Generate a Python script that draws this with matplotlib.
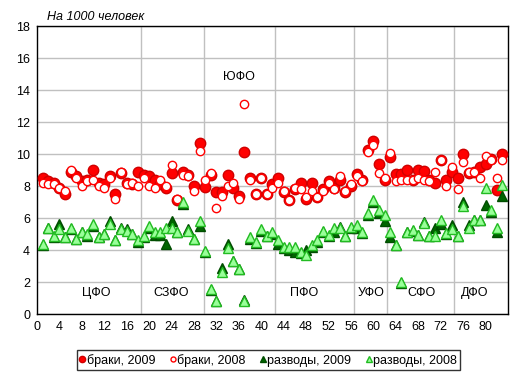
import matplotlib.pyplot as plt

plt.rcParams['font.family'] = ['Liberation Sans', 'DejaVu Sans']

# regions numbered 1..83
regions = list(range(1, 84))

marriages_2009 = [8.5, 8.3, 8.2, 7.9, 7.5, 8.9, 8.6, 8.3, 8.4, 9.0, 8.2, 8.1, 8.6, 7.5, 8.8, 8.2, 8.1, 8.9,
                  8.7, 8.6, 8.4, 8.1, 7.85, 8.8, 7.1, 8.9, 8.7, 8.0, 10.7,
                  7.95, 8.7, 7.65, 7.65, 8.7, 7.85, 7.4, 10.1, 8.5, 7.5, 8.5, 7.5, 8.1,
                  8.5, 7.6, 7.1, 7.8, 8.2, 7.2, 8.2, 7.3, 7.8, 8.3, 7.9, 8.4, 7.65, 8.0,
                  8.75, 8.4, 10.25, 10.8, 9.4, 8.4,
                  9.8, 8.75, 8.75, 9.0, 8.4, 9.0, 8.95, 8.4, 8.2, 9.6, 8.4, 8.9,
                  8.5, 10.0, 8.8, 8.9, 9.2, 9.4, 9.7, 7.75, 10.0]

marriages_2008 = [8.2, 8.1, 8.1, 7.9, 7.7, 9.0, 8.5, 8.0, 8.3, 8.4, 8.0, 7.9, 8.5, 7.2, 8.9, 8.1, 8.2, 8.0,
                  8.5, 8.0, 7.9, 8.4, 8.0, 9.3, 7.2, 8.7, 8.6, 7.7, 10.2,
                  8.4, 8.8, 6.6, 7.4, 8.0, 8.2, 7.2, 13.1, 8.4, 7.5, 8.5, 7.5, 7.9,
                  8.2, 7.7, 7.1, 7.9, 7.8, 7.3, 7.7, 7.3, 7.7, 8.2, 7.8, 8.6, 7.7, 8.1,
                  8.6, 8.3, 10.1, 10.55, 8.8, 8.5,
                  10.05, 8.3, 8.4, 8.4, 8.4, 8.5, 8.4, 8.3, 8.9, 9.6, 8.0, 9.2,
                  7.8, 9.5, 8.9, 8.9, 8.5, 9.9, 9.6, 8.5, 9.65]

divorces_2009 = [4.3, 5.4, 4.8, 5.6, 4.8, 5.3, 4.7, 5.1, 4.9, 5.5, 4.8, 5.0, 5.8, 4.6, 5.4, 5.3, 5.0, 4.5,
                 4.8, 5.4, 4.95, 4.95, 4.4, 5.8, 5.1, 6.9, 5.3, 4.7, 5.5,
                 3.9, 1.5, 0.8, 2.9, 4.4, 3.3, 2.8, 0.85, 4.7, 4.45, 5.2, 4.85, 5.0,
                 4.4, 4.1, 4.0, 3.9, 3.8, 4.0, 4.2, 4.5, 5.1, 4.9, 5.1, 5.45, 4.85, 5.35,
                 5.35, 5.05, 6.2, 7.0, 6.3, 5.8,
                 4.8, 4.3, 1.95, 5.1, 5.2, 4.95, 5.75, 4.9, 5.4, 5.65, 5.0, 5.55,
                 4.85, 7.0, 5.55, 5.9, 5.9, 6.8, 6.4, 5.15, 7.4]

divorces_2008 = [4.4, 5.4, 4.9, 5.3, 4.8, 5.4, 4.7, 5.1, 5.0, 5.6, 4.8, 5.0, 5.6, 4.6, 5.3, 5.2, 5.0, 4.6,
                 4.9, 5.5, 5.15, 5.1, 5.35, 5.4, 5.15, 7.0, 5.2, 4.7, 5.8,
                 3.95, 1.55, 0.8, 2.65, 4.1, 3.3, 2.8, 0.8, 4.8, 4.5, 5.3, 4.9, 5.15,
                 4.6, 4.2, 4.2, 4.2, 3.9, 3.7, 4.3, 4.6, 5.2, 4.95, 5.35, 5.4, 4.85, 5.45,
                 5.55, 5.15, 6.3, 7.1, 6.5, 6.2,
                 5.1, 4.3, 2.0, 5.15, 5.25, 4.95, 5.7, 4.9, 4.85, 5.9, 5.05, 5.3,
                 4.85, 6.75, 5.35, 5.9, 5.9, 7.85, 6.5, 5.35, 8.05]

# federal districts: label, label x position, boundaries between them
districts = ["ЦФО", "СЗФО", "ПФО", "УФО", "СФО", "ДФО"]
district_x = [10.5, 24, 47.7, 59.6, 68.5, 78]
boundaries = [18.5, 29.8, 42.5, 56.5, 62.5, 74.4]

fig = plt.figure(figsize=(5.21, 3.77), dpi=100)
ax = fig.add_axes([0.071, 0.167, 0.904, 0.764])

for b in boundaries:
    ax.plot([b, b], [0, 18], color="#c0c0c0", linewidth=1, zorder=1)

ax.plot(regions, marriages_2009, "o", color="#ff0000", markeredgecolor="#d00000",
        markersize=7.5, label="браки, 2009", zorder=3)
ax.plot(regions, marriages_2008, "o", markerfacecolor="white", markeredgecolor="#ff0000",
        markeredgewidth=1.0, markersize=6, label="браки, 2008", zorder=4)
ax.plot(regions, divorces_2009, "^", color="#006600", markeredgecolor="#004d00",
        markersize=7, label="разводы, 2009", zorder=5)
ax.plot(regions, divorces_2008, "^", markerfacecolor="#99ff99", markeredgecolor="#22bb22",
        markeredgewidth=1.0, markersize=6.5, label="разводы, 2008", zorder=6)

for name, x in zip(districts, district_x):
    ax.text(x, 1.3, name, ha="center", va="center", fontsize=9)
ax.text(36, 14.8, "ЮФО", ha="center", va="center", fontsize=9)

ax.set_xlim(0, 84)
ax.set_ylim(0, 18)
ax.set_xticks(range(0, 81, 4))
ax.set_yticks(range(0, 19, 2))
ax.tick_params(labelsize=9, length=0, pad=5)
ax.yaxis.grid(True, color="#c0c0c0", linewidth=1)
ax.set_axisbelow(True)
for s in ax.spines.values():
    s.set_color("black")
    s.set_linewidth(1)

fig.text(0.09, 0.955, "На 1000 человек", fontsize=9, style="italic", ha="left", va="center")

fig.legend(loc="center", bbox_to_anchor=(0.515, 0.045), ncol=4, fontsize=9,
           frameon=True, fancybox=False, edgecolor="black", handlelength=0.4,
           handletextpad=0.15, columnspacing=1.2, borderpad=0.25, markerscale=0.6,
           borderaxespad=0)

fig.savefig("out.png", dpi=100)
